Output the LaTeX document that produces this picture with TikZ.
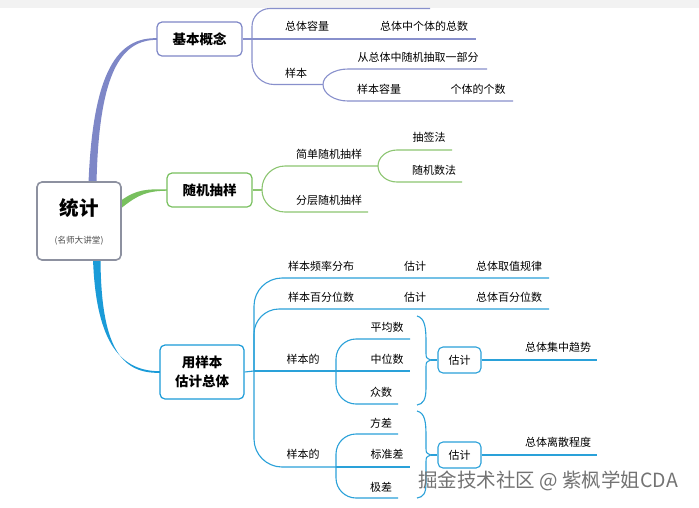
\documentclass[tikz,border=0pt]{standalone}
\usepackage{fontspec}
\setmainfont{Noto Sans CJK SC}
\usetikzlibrary{calc}
\definecolor{pur}{HTML}{7E87C7}
\definecolor{purl}{HTML}{8890CC}
\definecolor{grn}{HTML}{78C05E}
\definecolor{grnl}{HTML}{8CC571}
\definecolor{blu}{HTML}{1A9BD8}
\definecolor{blul}{HTML}{2AA1D9}
\definecolor{rootc}{HTML}{8D91A0}
\tikzset{
  fan/.style={to path={let \p1=(\tikztostart), \p2=(\tikztotarget),
     \n1={abs(\y2-\y1)}, \n2={(\y2>\y1)?1:-1}, \n3={min(#1,\n1)} in
     -- (\x1, \y2-\n2*\n3) .. controls (\x1, \y2-\n2*\n3*0.45) and (\x1+#1*0.45pt, \y2) .. (\x1+#1pt, \y2) -- (\p2)}},
  lbl/.style={inner sep=0, font=\fontsize{11}{13}\selectfont},
  mainbox/.style={draw, rounded corners=5pt, line width=1.2pt, fill=white, inner sep=0,
     font=\fontsize{13.5}{19}\bfseries\selectfont, align=center},
  estbox/.style={draw=blul, rounded corners=5pt, line width=1.1pt, fill=white, inner sep=0,
     minimum width=43pt, minimum height=26pt, font=\fontsize{11}{13}\selectfont},
  pline/.style={draw=purl, line width=1.1pt},
  gline/.style={draw=grnl, line width=1.1pt},
  bline/.style={draw=blul, line width=1.1pt},
}
\begin{document}
\begin{tikzpicture}[x=1pt,y=-1pt]
\useasboundingbox (0,0) rectangle (699,507);
\fill[white] (0,0) rectangle (699,507);
\fill[black!5] (0,0) rectangle (699,8);

% thick main branches
\fill[pur] (88.5,183) .. controls (93,70) and (118,37.3) .. (157,38.2) -- (157,39.8) .. controls (121,40) and (99,72) .. (96.5,183) -- cycle;
\fill[grn] (121,200.5) .. controls (137,189) and (147,189.2) .. (167,189.3) -- (167,190.7) .. controls (148,191) and (139,194) .. (122,207.5) -- cycle;
\fill[blu] (93,259) .. controls (96,345) and (122,371.3) .. (160,371.2) -- (160,372.8) .. controls (120,374) and (101,345) .. (100.5,259) -- cycle;

% root
\node[draw=rootc, line width=1.6pt, rounded corners=5pt, fill=white, minimum width=84pt, minimum height=78pt] (root) at (79,221) {};
\node[inner sep=0, font=\fontsize{19.5}{22}\bfseries\selectfont] (rootT) at (79,208) {统计};
\node[inner sep=0, font=\fontsize{8.6}{9}\selectfont, text=black!70] (rootS) at (79,241) {(名师大讲堂)};

% main boxes
\node[mainbox, draw=pur, minimum width=85pt, minimum height=34pt] (b1) at (199.5,39) {基本概念};
\node[mainbox, draw=grn, minimum width=85pt, minimum height=34pt] (b2) at (209.5,190) {随机抽样};
\node[mainbox, draw=blu, minimum width=84pt, minimum height=54pt] (b3) at (202,372) {用样本\\估计总体};

% ---- 基本概念 ----
\coordinate (F1) at (252,39);
\coordinate (e11) at (430,8.5);
\coordinate (e12) at (476,39);
\coordinate (F1b) at (323,84.5);
\coordinate (e13) at (487,69);
\coordinate (e14) at (513,101);
\draw[pline] (b1.east) -- (F1);
\draw[pline] (F1) to[fan=18] (e11);
\draw[pline] (F1) -- (e12);
\draw[pline] (F1) to[fan=22] (F1b);
\draw[pline] (F1b) to[fan=25] (e13);
\draw[pline] (F1b) to[fan=25] (e14);
\node[lbl] (t11) at (307,26) {总体容量};
\node[lbl] (t12) at (424,26) {总体中个体的总数};
\node[lbl] (t13) at (296,73) {样本};
\node[lbl] (t14) at (418,57) {从总体中随机抽取一部分};
\node[lbl] (t15) at (379,89) {样本容量};
\node[lbl] (t16) at (478,89) {个体的个数};

% ---- 随机抽样 ----
\coordinate (F2) at (262,190);
\coordinate (F2b) at (378,166);
\coordinate (e22) at (368,212);
\coordinate (e23) at (452,150);
\coordinate (e24) at (462,182);
\draw[gline] (b2.east) -- (F2);
\draw[gline] (F2) to[fan=23] (F2b);
\draw[gline] (F2) to[fan=23] (e22);
\draw[gline] (F2b) to[fan=19] (e23);
\draw[gline] (F2b) to[fan=19] (e24);
\node[lbl] (t21) at (329,154) {简单随机抽样};
\node[lbl] (t22) at (329,200) {分层随机抽样};
\node[lbl] (t23) at (429,137) {抽签法};
\node[lbl] (t24) at (434,170) {随机数法};

% ---- 用样本估计总体 ----
\coordinate (F3) at (254,371);
\coordinate (e31) at (549,278);
\coordinate (e32) at (549,309);
\coordinate (F3b) at (336,371);
\coordinate (e33) at (410,371);
\coordinate (e34) at (410,339);
\coordinate (e35) at (398,404);
\coordinate (F3c) at (336,467);
\coordinate (e36) at (410,467);
\coordinate (e37) at (398,434);
\coordinate (e38) at (398,498);
\draw[bline] (b3.east) -- (F3);
\draw[bline] (F3) to[fan=28] (e31);
\draw[bline] (F3) to[fan=25] (e32);
\draw[bline] (F3) -- (F3b);
\draw[bline] (F3b) -- (e33);
\draw[bline] (F3b) to[fan=20] (e34);
\draw[bline] (F3b) to[fan=20] (e35);
\draw[bline] (F3) to[fan=28] (F3c);
\draw[bline] (F3c) -- (e36);
\draw[bline] (F3c) to[fan=20] (e37);
\draw[bline] (F3c) to[fan=20] (e38);

\node[lbl] (t31) at (321,266) {样本频率分布};
\node[lbl] (t32) at (415,266) {估计};
\node[lbl] (t33) at (509,266) {总体取值规律};
\node[lbl] (t34) at (321,297) {样本百分位数};
\node[lbl] (t35) at (415,297) {估计};
\node[lbl] (t36) at (509,297) {总体百分位数};
\node[lbl] (t37) at (303,359) {样本的};
\node[lbl] (t38) at (387,327) {平均数};
\node[lbl] (t39) at (387,359) {中位数};
\node[lbl] (t40) at (381,392) {众数};
\node[lbl] (t41) at (303,454) {样本的};
\node[lbl] (t42) at (381,423) {方差};
\node[lbl] (t43) at (387,454) {标准差};
\node[lbl] (t44) at (381,487) {极差};

% braces
\coordinate (T1) at (431,360);
\coordinate (T2) at (431,455);
\draw[bline] (417,316) .. controls (425,318) and (426,328) .. (426,342) -- (426,352) .. controls (426,358) .. (T1) .. controls (426,362) .. (426,368) -- (426,388) .. controls (426,400) and (423,404) .. (417,405);
\draw[bline] (417,411) .. controls (425,413) and (426,422) .. (426,436) -- (426,447) .. controls (426,453) .. (T2) .. controls (426,457) .. (426,463) -- (426,483) .. controls (426,494) and (423,497) .. (417,498);

\node[estbox] (est1) at (459.5,360) {估计};
\node[estbox] (est2) at (459.5,455) {估计};
\coordinate (e39) at (597,360);
\coordinate (e310) at (597,455);
\draw[bline] (T1) -- (est1.west);
\draw[bline] (T2) -- (est2.west);
\draw[bline] (est1.east) -- (e39);
\draw[bline] (est2.east) -- (e310);
\node[lbl] (t45) at (558,347) {总体集中趋势};
\node[lbl] (t46) at (558,442) {总体离散程度};

% watermark
\node[inner sep=0, font=\fontsize{19.5}{22}\selectfont, text=black!55] (wm) at (548,481) {掘金技术社区 @ 紫枫学姐CDA};
\end{tikzpicture}
\end{document}
